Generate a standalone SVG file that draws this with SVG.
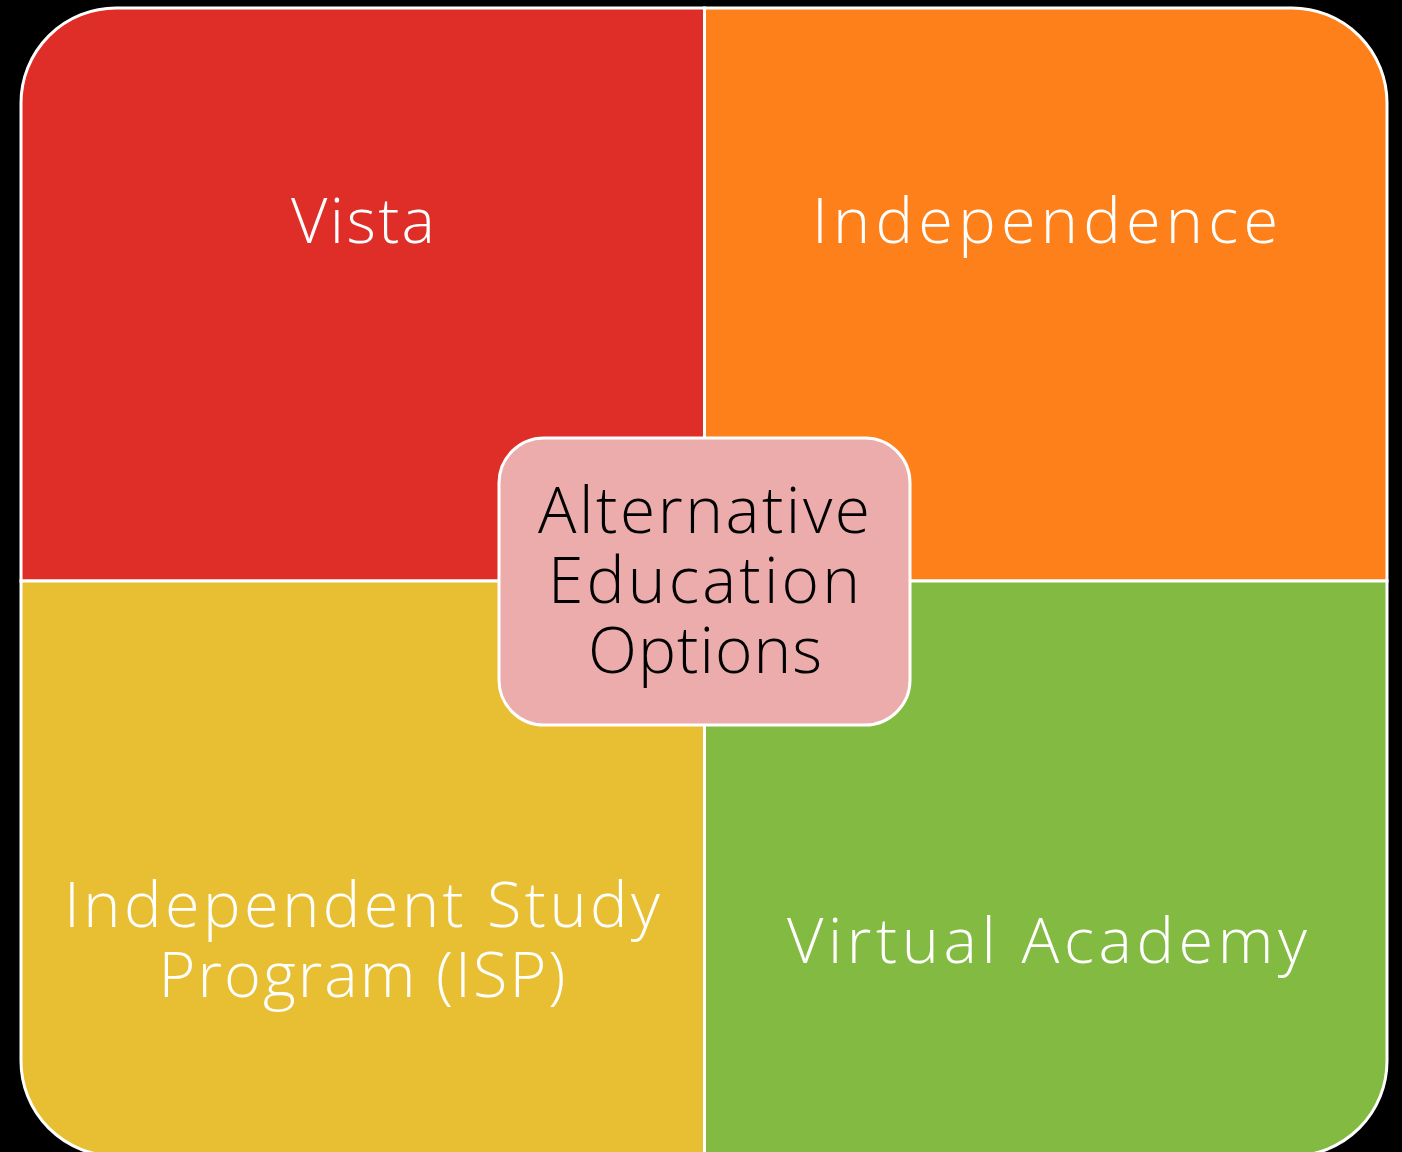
<svg xmlns="http://www.w3.org/2000/svg" width="1402" height="1152" viewBox="0 0 1402 1152">
  <style>
    .q { stroke: #FFFFFF; stroke-width: 3; }
    .lbl { font-family: "Open Sans", "Liberation Sans", sans-serif; font-weight: 300; font-size: 63px; fill: #FFFFFF; text-anchor: middle; }
    .ctr { font-family: "Open Sans", "Liberation Sans", sans-serif; font-weight: 300; font-size: 64px; fill: #000000; text-anchor: middle; }
  </style>
  <rect x="0" y="0" width="1402" height="1152" fill="#000000"/>
  <g id="vista">
    <path class="q" fill="#DF2E28" d="M21,581 L21,103 A95,95 0 0 1 116,8 L704.5,8 L704.5,581 Z"/>
    <text class="lbl" x="363" y="243" textLength="144" lengthAdjust="spacing">Vista</text>
  </g>
  <g id="independence">
    <path class="q" fill="#FE801A" d="M704.5,8 L1292,8 A95,95 0 0 1 1387,103 L1387,581 L704.5,581 Z"/>
    <text class="lbl" x="1045" y="243" textLength="466" lengthAdjust="spacing">Independence</text>
  </g>
  <g id="isp">
    <path class="q" fill="#E8BF33" d="M21,581 L704.5,581 L704.5,1156 L116,1156 A95,95 0 0 1 21,1061 Z"/>
    <text class="lbl" x="362" y="927" textLength="596" lengthAdjust="spacing">Independent Study</text>
    <text class="lbl" x="362" y="997" textLength="407" lengthAdjust="spacing">Program (ISP)</text>
  </g>
  <g id="virtual">
    <path class="q" fill="#82BA42" d="M704.5,581 L1387,581 L1387,1061 A95,95 0 0 1 1292,1156 L704.5,1156 Z"/>
    <text class="lbl" x="1047" y="963" textLength="520" lengthAdjust="spacing">Virtual Academy</text>
  </g>
  <g id="center">
    <rect x="499" y="438" width="411" height="287" rx="45" ry="45" fill="#ECACAC" stroke="#FFFFFF" stroke-width="3"/>
    <text class="ctr" x="704" y="533" textLength="332" lengthAdjust="spacing">Alternative</text>
    <text class="ctr" x="704" y="603" textLength="312" lengthAdjust="spacing">Education</text>
    <text class="ctr" x="705" y="673" textLength="234" lengthAdjust="spacing">Options</text>
  </g>
  <g id="connectors"></g>
</svg>
